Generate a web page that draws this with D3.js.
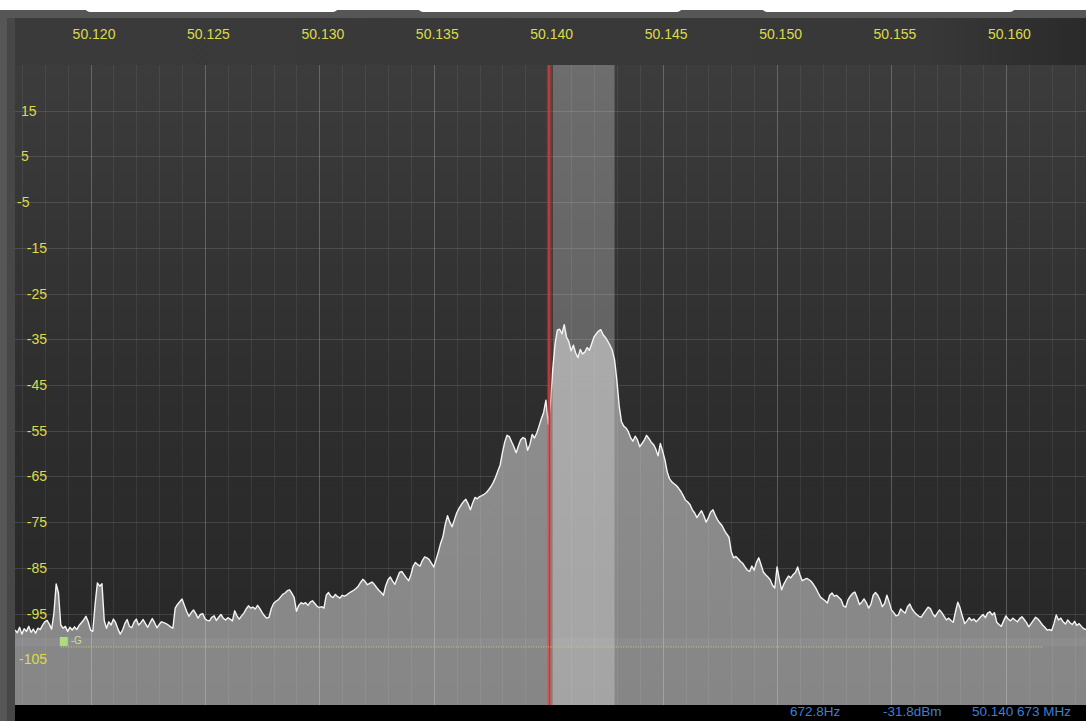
<!DOCTYPE html>
<html>
<head>
<meta charset="utf-8">
<script src="https://cdn.jsdelivr.net/npm/d3@7"></script>
<style>
  html, body { margin: 0; padding: 0; background: #ffffff; overflow: hidden; }
  svg { display: block; }
</style>
</head>
<body>
<svg id="scope" width="1086" height="721"></svg>
<script>
// ---- spectrum data -------------------------------------------------------
// trace sampled every 100 Hz starting at freqStart (MHz), level in dBm
const freqStart = 50.1167;
const freqStep = 0.0001;
const levels = [
  -98.6,-99.2,-98.0,-99.5,-98.3,-98.9,-97.8,-99.1,-98.4,-99.3,
  -98.2,-98.5,-97.6,-96.8,-96.5,-97.3,-98.4,-95.0,-88.5,-90.5,
  -97.5,-98.2,-97.8,-98.9,-98.0,-98.6,-97.9,-98.5,-97.6,-97.0,
  -96.4,-95.6,-96.8,-98.6,-98.9,-93.0,-88.3,-89.0,-88.5,-96.5,
  -98.2,-96.8,-97.5,-96.2,-97.0,-98.4,-99.5,-98.6,-97.2,-96.3,
  -97.8,-98.1,-96.9,-96.2,-97.5,-97.0,-96.3,-97.2,-98.0,-97.0,
  -96.1,-97.0,-98.1,-97.4,-96.8,-97.0,-97.2,-97.5,-97.9,-98.2,
  -93.8,-93.0,-92.4,-91.8,-93.2,-94.5,-95.6,-94.8,-94.2,-95.0,
  -96.0,-95.2,-95.0,-96.1,-96.5,-96.6,-95.8,-95.5,-96.5,-95.8,
  -95.2,-96.0,-96.4,-95.9,-96.2,-96.6,-94.4,-95.5,-96.2,-95.5,
  -94.9,-94.0,-93.3,-93.8,-93.6,-94.0,-93.2,-93.9,-94.8,-95.5,
  -96.0,-95.8,-93.9,-92.8,-92.3,-92.0,-91.4,-90.8,-90.5,-90.0,
  -89.8,-90.6,-91.5,-94.5,-93.2,-92.6,-92.9,-92.6,-93.2,-92.5,
  -92.2,-92.8,-93.4,-93.7,-93.5,-93.8,-91.0,-90.4,-91.2,-91.5,
  -90.8,-91.3,-91.6,-91.0,-91.2,-90.9,-90.5,-90.2,-89.9,-89.5,
  -89.0,-88.2,-87.5,-88.0,-88.7,-88.4,-88.1,-88.6,-89.3,-89.9,
  -90.4,-91.0,-88.9,-87.6,-87.0,-87.9,-88.6,-87.3,-86.0,-85.8,
  -86.5,-87.2,-87.8,-86.5,-84.6,-83.8,-84.3,-84.6,-83.4,-82.6,
  -82.8,-83.2,-84.0,-84.8,-83.2,-81.5,-79.6,-78.2,-75.5,-73.6,
  -75.0,-76.0,-74.5,-73.0,-72.0,-71.2,-70.5,-70.0,-71.0,-72.3,
  -70.8,-69.6,-69.9,-69.4,-69.2,-68.9,-68.5,-67.9,-67.2,-66.3,
  -65.2,-63.8,-62.5,-59.8,-57.5,-56.0,-56.3,-57.4,-58.5,-59.8,
  -58.3,-57.0,-56.5,-56.8,-59.3,-58.0,-55.8,-56.6,-55.5,-54.0,
  -52.4,-51.0,-48.3,-53.5,-49.0,-41.5,-36.0,-33.0,-32.8,-33.8,
  -31.8,-34.5,-35.5,-37.5,-36.3,-38.0,-39.0,-37.2,-38.2,-37.8,
  -36.8,-37.4,-36.0,-34.5,-33.8,-33.2,-32.9,-34.0,-34.6,-35.4,
  -36.3,-37.4,-39.5,-44.0,-49.5,-53.0,-54.0,-54.4,-55.2,-56.5,
  -57.3,-56.2,-57.0,-58.5,-57.8,-57.0,-56.0,-56.7,-57.5,-58.0,
  -59.0,-60.5,-57.8,-59.5,-61.4,-64.0,-65.5,-66.2,-66.6,-67.0,
  -67.6,-68.3,-69.2,-70.2,-70.6,-71.2,-72.3,-73.0,-74.0,-73.2,
  -72.5,-73.6,-75.0,-74.0,-72.8,-72.3,-73.5,-74.5,-75.2,-75.8,
  -76.8,-77.6,-78.3,-81.5,-82.8,-82.5,-83.0,-83.6,-84.0,-84.8,
  -85.5,-85.8,-84.6,-85.5,-83.8,-82.8,-84.3,-85.9,-86.5,-87.0,
  -87.6,-88.8,-89.4,-84.8,-87.5,-89.8,-88.5,-87.6,-86.8,-87.2,
  -86.5,-86.0,-84.8,-86.5,-87.8,-87.5,-87.3,-87.6,-88.0,-88.7,
  -89.5,-90.5,-91.4,-91.8,-92.2,-92.7,-91.0,-90.5,-91.2,-91.0,
  -91.5,-92.0,-93.3,-93.6,-92.0,-91.2,-90.6,-90.3,-91.5,-93.0,
  -92.5,-91.8,-92.6,-93.8,-93.0,-91.0,-90.4,-91.0,-92.0,-93.5,
  -92.8,-91.0,-92.5,-94.2,-94.8,-95.5,-95.3,-94.0,-94.5,-94.9,
  -93.5,-92.9,-94.0,-94.7,-95.2,-95.6,-95.8,-95.0,-94.3,-93.6,
  -93.9,-95.0,-95.7,-94.9,-94.2,-94.8,-95.6,-96.4,-96.0,-96.5,
  -96.9,-94.5,-92.5,-93.8,-95.6,-97.2,-96.6,-95.9,-96.5,-96.2,
  -96.8,-96.3,-95.7,-95.2,-95.9,-94.9,-94.6,-95.3,-94.8,-96.9,
  -97.4,-97.8,-96.6,-95.5,-96.2,-96.6,-96.0,-96.4,-96.8,-96.1,
  -95.7,-96.3,-97.0,-97.9,-97.2,-96.5,-95.8,-96.2,-96.8,-97.5,
  -98.0,-98.6,-98.5,-98.7,-97.2,-95.3,-96.4,-96.0,-96.8,-97.3,
  -96.4,-97.0,-97.4,-96.7,-97.6,-97.2,-97.8,-98.3,-98.5
];

// axis ticks
const freqTicks = [50.120, 50.125, 50.130, 50.135, 50.140, 50.145, 50.150, 50.155, 50.160];
const freqTickLabels = ["50.120", "50.125", "50.130", "50.135", "50.140", "50.145", "50.150", "50.155", "50.160"];
const levelTicks = [15, 5, -5, -15, -25, -35, -45, -55, -65, -75, -85, -95, -105];
const levelTickLabels = ["15", "5", "-5", "-15", "-25", "-35", "-45", "-55", "-65", "-75", "-85", "-95", "-105"];

// receiver state
const tuneFreq = 50.14005;
const passband = [50.1402, 50.1429];
const gateLevel = -102.3;
const gateSpan = [50.1187, 50.1616];
const gateLabel = "-G";
const readout = ["672.8Hz", "-31.8dBm", "50.140 673 MHz"];

// ---- layout --------------------------------------------------------------
const W = 1086, H = 721;
const plot = { left: 15, right: 1086, top: 65, bottom: 705 };
const FONT = "'Liberation Sans', Arial, sans-serif";
const YELLOW = "#dcdc48";

const spectrum = levels.map((v, i) => ({ f: freqStart + i * freqStep, v }));

const x = d3.scaleLinear()
  .domain([freqStart, freqStart + (levels.length - 1) * freqStep])
  .range([plot.left, plot.right]);
const y = d3.scaleLinear().domain([-115, 25]).range([plot.bottom, plot.top]);

const svg = d3.select("#scope");
const defs = svg.append("defs");

const bgGrad = defs.append("linearGradient").attr("id", "bgGrad")
  .attr("x1", 0).attr("y1", 0).attr("x2", 0).attr("y2", 1);
bgGrad.append("stop").attr("offset", "0%").attr("stop-color", "#3c3c3c");
bgGrad.append("stop").attr("offset", "55%").attr("stop-color", "#2d2d2d");
bgGrad.append("stop").attr("offset", "100%").attr("stop-color", "#272727");

const hdrGrad = defs.append("linearGradient").attr("id", "hdrGrad")
  .attr("x1", 0).attr("y1", 0).attr("x2", 1).attr("y2", 0);
hdrGrad.append("stop").attr("offset", "0%").attr("stop-color", "#3a3a3a");
hdrGrad.append("stop").attr("offset", "85%").attr("stop-color", "#383838");
hdrGrad.append("stop").attr("offset", "100%").attr("stop-color", "#2a2a2a");

const fillGrad = defs.append("linearGradient").attr("id", "fillGrad")
  .attr("gradientUnits", "userSpaceOnUse")
  .attr("x1", 0).attr("y1", plot.top).attr("x2", 0).attr("y2", plot.bottom);
fillGrad.append("stop").attr("offset", "0%").attr("stop-color", "#959595");
fillGrad.append("stop").attr("offset", "100%").attr("stop-color", "#868686");

defs.append("clipPath").attr("id", "plotClip").append("rect")
  .attr("x", plot.left).attr("y", plot.top)
  .attr("width", plot.right - plot.left).attr("height", plot.bottom - plot.top);

// ---- frame ---------------------------------------------------------------
svg.append("rect").attr("x", 0).attr("y", 10).attr("width", W).attr("height", H - 10).attr("fill", "#565656");
svg.append("rect").attr("x", 7).attr("y", 18).attr("width", 8).attr("height", H - 18).attr("fill", "#474747");
[[85, 338], [418, 682], [762, 1015]].forEach(([a, b]) => {
  svg.append("rect").attr("x", a).attr("y", -6).attr("width", b - a).attr("height", 18)
    .attr("rx", 5).attr("fill", "#ffffff");
});

// header strip with frequency labels
svg.append("rect").attr("x", plot.left).attr("y", 18)
  .attr("width", plot.right - plot.left).attr("height", plot.top - 18)
  .attr("fill", "url(#hdrGrad)");

// ---- plot ----------------------------------------------------------------
const g = svg.append("g").attr("clip-path", "url(#plotClip)");
g.append("rect").attr("x", plot.left).attr("y", plot.top)
  .attr("width", plot.right - plot.left).attr("height", plot.bottom - plot.top)
  .attr("fill", "url(#bgGrad)");

// horizontal level grid (under the trace fill)
g.append("g").selectAll("line").data(levelTicks).join("line")
  .attr("x1", plot.left).attr("x2", plot.right)
  .attr("y1", d => Math.round(y(d)) + 0.5).attr("y2", d => Math.round(y(d)) + 0.5)
  .attr("stroke", "#ffffff").attr("stroke-opacity", 0.12);

// trace fill
g.append("path").datum(spectrum)
  .attr("d", d3.area().x(d => x(d.f)).y0(plot.bottom).y1(d => y(d.v)))
  .attr("fill", "url(#fillGrad)");

// gate band and level
g.append("rect").attr("x", plot.left).attr("y", y(gateLevel) - 9)
  .attr("width", plot.right - plot.left).attr("height", 8)
  .attr("fill", "#c8c8e6").attr("fill-opacity", 0.08);

// passband overlay
g.append("rect").attr("x", x(passband[0])).attr("y", plot.top)
  .attr("width", x(passband[1]) - x(passband[0])).attr("height", plot.bottom - plot.top)
  .attr("fill", "#ffffff").attr("fill-opacity", 0.25);

// vertical frequency grid: minor every 1 kHz, major every 5 kHz
const minorFreqs = d3.range(50117, 50164).map(k => k / 1000);
g.append("g").selectAll("line").data(minorFreqs).join("line")
  .attr("x1", d => Math.round(x(d)) + 0.5).attr("x2", d => Math.round(x(d)) + 0.5)
  .attr("y1", plot.top).attr("y2", plot.bottom)
  .attr("stroke", "#ffffff").attr("stroke-opacity", 0.07);
g.append("g").selectAll("line").data(freqTicks).join("line")
  .attr("x1", d => Math.round(x(d)) + 0.5).attr("x2", d => Math.round(x(d)) + 0.5)
  .attr("y1", plot.top).attr("y2", plot.bottom)
  .attr("stroke", "#ffffff").attr("stroke-opacity", 0.17);

// trace outline
g.append("path").datum(spectrum)
  .attr("d", d3.line().x(d => x(d.f)).y(d => y(d.v)))
  .attr("fill", "none").attr("stroke", "#f4f4f4").attr("stroke-width", 1.4)
  .attr("stroke-linejoin", "round");

// tuned frequency marker
g.append("line").attr("x1", x(tuneFreq)).attr("x2", x(tuneFreq))
  .attr("y1", plot.top).attr("y2", plot.bottom)
  .attr("stroke", "#e84040").attr("stroke-opacity", 0.35).attr("stroke-width", 5);
g.append("line").attr("x1", x(tuneFreq)).attr("x2", x(tuneFreq))
  .attr("y1", plot.top).attr("y2", plot.bottom)
  .attr("stroke", "#e02828").attr("stroke-width", 1.6);

// gate level line and handle
g.append("line").attr("x1", x(gateSpan[0])).attr("x2", x(gateSpan[1]))
  .attr("y1", y(gateLevel)).attr("y2", y(gateLevel))
  .attr("stroke", "#d2d27a").attr("stroke-width", 1).attr("stroke-dasharray", "1,1.5");
g.append("rect").attr("x", x(gateSpan[0]) - 1).attr("y", y(gateLevel) - 10)
  .attr("width", 8).attr("height", 9).attr("fill", "#aedc7c");
g.append("text").attr("x", x(gateSpan[0]) + 10).attr("y", y(gateLevel) - 3)
  .attr("font-family", FONT).attr("font-size", 10).attr("fill", "#d6d69a")
  .text(gateLabel);

// ---- labels ----------------------------------------------------------------
svg.append("g").selectAll("text").data(freqTicks).join("text")
  .attr("x", d => x(d) + 3.5).attr("y", 39)
  .attr("text-anchor", "middle")
  .attr("font-family", FONT).attr("font-size", 14).attr("fill", YELLOW)
  .text((d, i) => freqTickLabels[i]);

svg.append("g").selectAll("text").data(levelTicks).join("text")
  .attr("x", d => d >= -5 ? (d < 0 ? 17 : 21) : 47)
  .attr("y", d => y(d) + 5)
  .attr("text-anchor", d => d >= -5 ? "start" : "end")
  .attr("font-family", FONT).attr("font-size", 14).attr("fill", YELLOW)
  .text((d, i) => levelTickLabels[i]);

// ---- status bar --------------------------------------------------------------
svg.append("rect").attr("x", plot.left).attr("y", plot.bottom)
  .attr("width", plot.right - plot.left).attr("height", H - plot.bottom).attr("fill", "#000000");
const readoutX = [790, 883, 972];
svg.append("g").selectAll("text").data(readout).join("text")
  .attr("x", (d, i) => readoutX[i]).attr("y", 716)
  .attr("font-family", FONT).attr("font-size", 13.5).attr("fill", "#3d7fd4")
  .text(d => d);
</script>
</body>
</html>
